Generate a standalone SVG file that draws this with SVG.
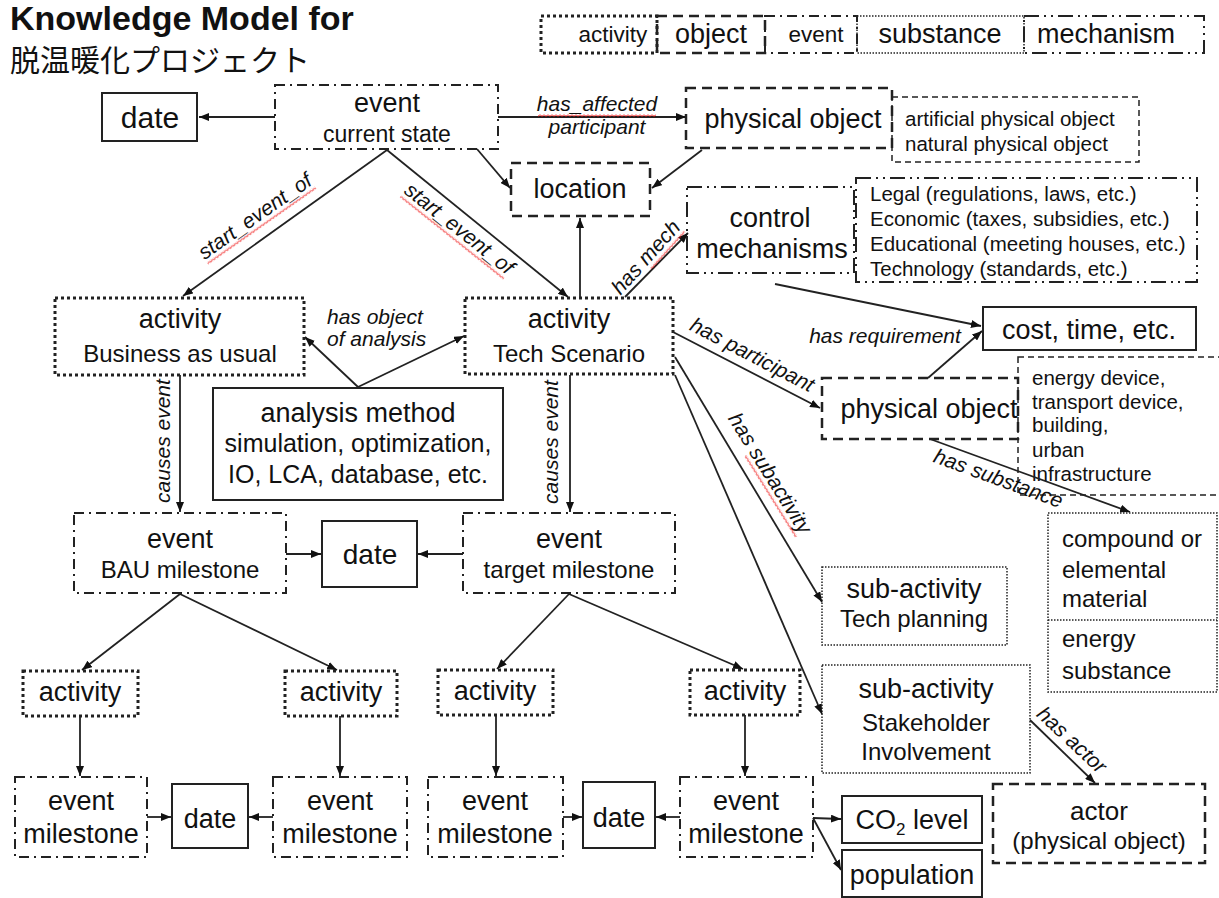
<svg xmlns="http://www.w3.org/2000/svg" width="1219" height="898" viewBox="0 0 1219 898">
<defs>
<style>
.t{font-family:"Liberation Sans",Arial,sans-serif;fill:#111}
.c{text-anchor:middle}
.lb{font-family:"Liberation Sans",Arial,sans-serif;font-style:italic;font-size:21px;fill:#111}
.act{fill:none;stroke:#222;stroke-width:3;stroke-dasharray:3 3}
.obj{fill:none;stroke:#222;stroke-width:2.5;stroke-dasharray:10 6}
.evt{fill:none;stroke:#222;stroke-width:2;stroke-dasharray:10 5 2 5}
.sub{fill:none;stroke:#222;stroke-width:1.5;stroke-dasharray:1.5 1.5}
.mech{fill:none;stroke:#222;stroke-width:2;stroke-dasharray:15 5 2 5 2 5}
.sol{fill:none;stroke:#222;stroke-width:2}
.thin{fill:none;stroke:#222;stroke-width:1.5;stroke-dasharray:6 4}
.ln{fill:none;stroke:#222;stroke-width:1.8;marker-end:url(#ah)}
.sq{fill:url(#sqp)}
</style>
<marker id="ah" viewBox="0 0 10 8" refX="10" refY="4" markerWidth="10" markerHeight="8" markerUnits="userSpaceOnUse" orient="auto"><path d="M0,0 L10,4 L0,8 z" fill="#111"/></marker>
<pattern id="sqp" width="4" height="3" patternUnits="userSpaceOnUse"><polyline points="0,0.5 2,2.5 4,0.5" fill="none" stroke="#e00" stroke-width="1"/></pattern>
</defs>
<rect width="1219" height="898" fill="#fff"/>

<g id="title">
<text class="t" x="10" y="30" font-size="34" font-weight="bold">Knowledge Model for</text>
<text x="10" y="71" font-size="30" style="font-family:'Noto Sans CJK JP','Liberation Sans',sans-serif;fill:#111">脱温暖化プロジェクト</text>
</g>

<g id="legend">
<rect class="act" x="541" y="16" width="116" height="37"/>
<rect class="obj" x="657" y="16" width="108" height="37"/>
<rect class="evt" x="765" y="16" width="92" height="37"/>
<rect class="sub" x="857" y="16" width="167" height="37"/>
<rect class="mech" x="1024" y="16" width="180" height="37"/>
<text class="t c" x="613" y="42" font-size="22.5">activity</text>
<text class="t c" x="711" y="43" font-size="27">object</text>
<text class="t c" x="816" y="42" font-size="22.5">event</text>
<text class="t c" x="940" y="43" font-size="27">substance</text>
<text class="t c" x="1106" y="43" font-size="27">mechanism</text>
</g>

<g id="date-top"><rect class="sol" x="102" y="93" width="95" height="48"/><text class="t c" x="150" y="128" font-size="30">date</text></g>
<g id="event-current"><rect class="evt" x="275" y="85" width="223" height="64"/><text class="t c" x="387" y="112" font-size="27">event</text><text class="t c" x="387" y="142" font-size="23">current state</text></g>
<g id="physobj-top"><rect class="obj" x="686" y="88" width="206" height="60"/><text class="t c" x="793" y="128" font-size="27">physical object</text></g>
<g id="physobj-top-kinds"><rect class="thin" x="892" y="97" width="247" height="65"/><text class="t" x="905" y="126" font-size="20.5">artificial physical object</text><text class="t" x="905" y="151" font-size="20.5">natural physical object</text></g>
<g id="location"><rect class="obj" x="511" y="163" width="139" height="53"/><text class="t c" x="580" y="198" font-size="27">location</text></g>
<g id="control"><rect class="mech" x="687" y="187" width="167" height="86"/><text class="t c" x="770" y="227" font-size="27">control</text><text class="t c" x="772" y="258" font-size="27">mechanisms</text></g>
<g id="control-kinds"><rect class="mech" x="856" y="178" width="341" height="104"/>
<text class="t" x="870" y="201" font-size="20.5">Legal (regulations, laws, etc.)</text>
<text class="t" x="870" y="226" font-size="20.5">Economic (taxes, subsidies, etc.)</text>
<text class="t" x="870" y="251" font-size="20.5">Educational (meeting houses, etc.)</text>
<text class="t" x="870" y="276" font-size="20.5">Technology (standards, etc.)</text></g>
<g id="cost"><rect class="sol" x="983" y="307" width="213" height="43"/><text class="t c" x="1089" y="339" font-size="27">cost, time, etc.</text></g>
<g id="physobj-mid"><rect class="obj" x="822" y="378" width="196" height="61"/><text class="t c" x="929" y="418" font-size="27">physical object</text></g>
<g id="physobj-mid-kinds"><rect class="thin" x="1018" y="357" width="215" height="138"/>
<text class="t" x="1032" y="385" font-size="20.5">energy device,</text>
<text class="t" x="1032" y="409" font-size="20.5">transport device,</text>
<text class="t" x="1032" y="432" font-size="20.5">building,</text>
<text class="t" x="1032" y="457" font-size="20.5">urban</text>
<text class="t" x="1032" y="481" font-size="20.5">infrastructure</text></g>
<g id="substance"><rect class="sub" x="1048" y="513" width="169" height="179"/><line class="sub" x1="1048" y1="620" x2="1217" y2="620"/>
<text class="t" x="1062" y="547" font-size="24">compound or</text>
<text class="t" x="1062" y="578" font-size="24">elemental</text>
<text class="t" x="1062" y="607" font-size="24">material</text>
<text class="t" x="1062" y="647" font-size="24">energy</text>
<text class="t" x="1062" y="679" font-size="24">substance</text></g>
<g id="sub-tech"><rect class="sub" x="822" y="567" width="185" height="78"/><text class="t c" x="914" y="598" font-size="27">sub-activity</text><text class="t c" x="914" y="627" font-size="24">Tech planning</text></g>
<g id="sub-stake"><rect class="sub" x="822" y="665" width="208" height="108"/><text class="t c" x="926" y="698" font-size="27">sub-activity</text><text class="t c" x="926" y="731" font-size="24">Stakeholder</text><text class="t c" x="926" y="760" font-size="24">Involvement</text></g>
<g id="actor"><rect class="obj" x="993" y="784" width="212" height="79"/><text class="t c" x="1099" y="820" font-size="26">actor</text><text class="t c" x="1099" y="849" font-size="24">(physical object)</text></g>
<g id="co2"><rect class="sol" x="842" y="796" width="140" height="47"/><text class="t c" x="912" y="829" font-size="27">CO<tspan font-size="17" dy="6">2</tspan><tspan dy="-6"> level</tspan></text></g>
<g id="population"><rect class="sol" x="842" y="850" width="140" height="47"/><text class="t c" x="912" y="884" font-size="27">population</text></g>
<g id="activity-bau"><rect class="act" x="55" y="298" width="249" height="77"/><text class="t c" x="180" y="328" font-size="27">activity</text><text class="t c" x="180" y="362" font-size="24">Business as usual</text></g>
<g id="activity-tech"><rect class="act" x="465" y="298" width="208" height="76"/><text class="t c" x="569" y="328" font-size="27">activity</text><text class="t c" x="569" y="362" font-size="24">Tech Scenario</text></g>
<g id="analysis"><rect class="sol" x="213" y="388" width="290" height="112"/><text class="t c" x="358" y="422" font-size="27">analysis method</text><text class="t c" x="358" y="452" font-size="25">simulation, optimization,</text><text class="t c" x="358" y="483" font-size="25">IO, LCA, database, etc.</text></g>
<g id="event-bau"><rect class="evt" x="74" y="513" width="212" height="80"/><text class="t c" x="180" y="548" font-size="27">event</text><text class="t c" x="180" y="578" font-size="24">BAU milestone</text></g>
<g id="date-mid"><rect class="sol" x="322" y="521" width="95" height="66"/><text class="t c" x="370" y="564" font-size="28">date</text></g>
<g id="event-target"><rect class="evt" x="463" y="513" width="212" height="80"/><text class="t c" x="569" y="548" font-size="27">event</text><text class="t c" x="569" y="578" font-size="24">target milestone</text></g>
<g id="activity-1"><rect class="act" x="23" y="671" width="115" height="45"/><text class="t c" x="80" y="701" font-size="27">activity</text></g>
<g id="activity-2"><rect class="act" x="285" y="671" width="112" height="45"/><text class="t c" x="341" y="701" font-size="27">activity</text></g>
<g id="activity-3"><rect class="act" x="438" y="670" width="115" height="45"/><text class="t c" x="495" y="700" font-size="27">activity</text></g>
<g id="activity-4"><rect class="act" x="690" y="670" width="110" height="45"/><text class="t c" x="745" y="700" font-size="27">activity</text></g>
<g id="event-1"><rect class="evt" x="15" y="777" width="132" height="80"/><text class="t c" x="81" y="810" font-size="27">event</text><text class="t c" x="81" y="843" font-size="27">milestone</text></g>
<g id="date-1"><rect class="sol" x="172" y="784" width="76" height="64"/><text class="t c" x="210" y="828" font-size="27">date</text></g>
<g id="event-2"><rect class="evt" x="273" y="777" width="134" height="80"/><text class="t c" x="340" y="810" font-size="27">event</text><text class="t c" x="340" y="843" font-size="27">milestone</text></g>
<g id="event-3"><rect class="evt" x="428" y="777" width="135" height="80"/><text class="t c" x="495" y="810" font-size="27">event</text><text class="t c" x="495" y="843" font-size="27">milestone</text></g>
<g id="date-2"><rect class="sol" x="583" y="782" width="72" height="66"/><text class="t c" x="619" y="827" font-size="27">date</text></g>
<g id="event-4"><rect class="evt" x="680" y="777" width="133" height="80"/><text class="t c" x="746" y="810" font-size="27">event</text><text class="t c" x="746" y="843" font-size="27">milestone</text></g>

<g id="connectors">
<line class="ln" x1="275" y1="117" x2="199" y2="117"/>
<line class="ln" x1="498" y1="117" x2="686" y2="117"/>
<line class="ln" x1="477" y1="149" x2="510" y2="188"/>
<line class="ln" x1="702" y1="150" x2="652" y2="188"/>
<line class="ln" x1="580" y1="297" x2="580" y2="218"/>
<line class="ln" x1="387" y1="150" x2="183" y2="296"/>
<line class="ln" x1="387" y1="150" x2="568" y2="297"/>
<line class="ln" x1="625" y1="297" x2="688" y2="233"/>
<line class="ln" x1="775" y1="284" x2="981" y2="326"/>
<line class="ln" x1="928" y1="378" x2="982" y2="331"/>
<line class="ln" x1="673" y1="332" x2="820" y2="408"/>
<line class="ln" x1="358" y1="387" x2="305" y2="337"/>
<line class="ln" x1="358" y1="387" x2="464" y2="336"/>
<line class="ln" x1="180" y1="375" x2="180" y2="512"/>
<line class="ln" x1="570" y1="375" x2="570" y2="512"/>
<line class="ln" x1="286" y1="554" x2="321" y2="554"/>
<line class="ln" x1="463" y1="554" x2="418" y2="554"/>
<line class="ln" x1="675" y1="357" x2="822" y2="602"/>
<line class="ln" x1="675" y1="375" x2="822" y2="714"/>
<line class="ln" x1="930" y1="439" x2="1130" y2="512"/>
<line class="ln" x1="1030" y1="720" x2="1095" y2="783"/>
<line class="ln" x1="180" y1="594" x2="82" y2="670"/>
<line class="ln" x1="180" y1="594" x2="337" y2="670"/>
<line class="ln" x1="569" y1="594" x2="497" y2="669"/>
<line class="ln" x1="569" y1="594" x2="743" y2="669"/>
<line class="ln" x1="80" y1="716" x2="80" y2="776"/>
<line class="ln" x1="340" y1="716" x2="340" y2="776"/>
<line class="ln" x1="496" y1="715" x2="496" y2="776"/>
<line class="ln" x1="745" y1="715" x2="745" y2="776"/>
<line class="ln" x1="147" y1="817" x2="171" y2="817"/>
<line class="ln" x1="273" y1="817" x2="249" y2="817"/>
<line class="ln" x1="563" y1="817" x2="582" y2="817"/>
<line class="ln" x1="680" y1="817" x2="656" y2="817"/>
<line class="ln" x1="813" y1="818" x2="841" y2="819"/>
<line class="ln" x1="813" y1="818" x2="841" y2="870"/>

<text class="lb" x="597" y="111" text-anchor="middle">has_affected</text>
<rect class="sq" x="538" y="114" width="118" height="3"/>
<text class="lb" x="597" y="134" text-anchor="middle">participant</text>
<g transform="translate(259,222) rotate(-35)"><text class="lb" text-anchor="middle">start_event_of</text><rect class="sq" x="-66" y="3" width="132" height="3"/></g>
<g transform="translate(455,234) rotate(38.5)"><text class="lb" text-anchor="middle">start_event_of</text><rect class="sq" x="-66" y="3" width="132" height="3"/></g>
<g transform="translate(651,262) rotate(-48)"><text class="lb" text-anchor="middle">has mech</text><rect class="sq" x="-5" y="3" width="50" height="3"/></g>
<g transform="translate(749,361) rotate(27.5)"><text class="lb" text-anchor="middle">has participant</text></g>
<g transform="translate(764,477) rotate(58)"><text class="lb" text-anchor="middle">has subactivity</text><rect class="sq" x="-28" y="3" width="96" height="3"/></g>
<g transform="translate(996,485) rotate(20)"><text class="lb" text-anchor="middle">has substance</text></g>
<g transform="translate(1067,745) rotate(43)"><text class="lb" text-anchor="middle">has actor</text></g>
<text class="lb" x="327" y="324">has object</text>
<text class="lb" x="327" y="346">of analysis</text>
<text class="lb" x="885" y="343" text-anchor="middle">has requirement</text>
<g transform="translate(170,441) rotate(-90)"><text class="lb" text-anchor="middle">causes event</text></g>
<g transform="translate(558,442) rotate(-90)"><text class="lb" text-anchor="middle">causes event</text></g>
</g>
</svg>
